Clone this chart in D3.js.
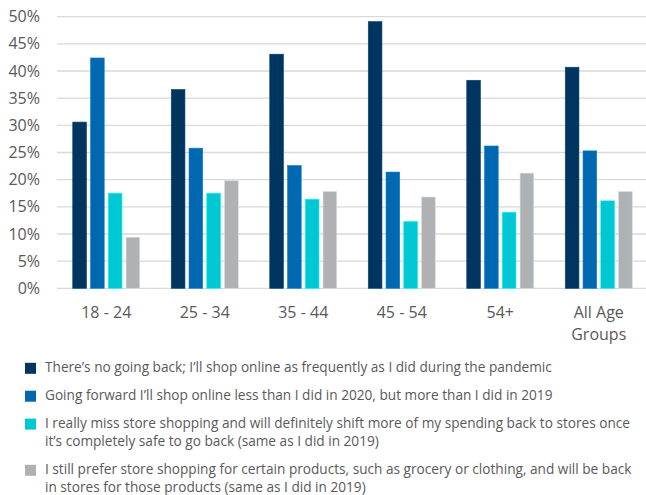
<!DOCTYPE html>
<html><head><meta charset="utf-8">
<script src="https://cdn.jsdelivr.net/npm/d3@7"></script>
<style>
html,body{margin:0;padding:0;background:#fff;}
svg text{font-family:"Open Sans",sans-serif;fill:#595959;}
</style></head>
<body><svg id="chart" width="646" height="495"></svg>
<script>
const categories = ["18 - 24", "25 - 34", "35 - 44", "45 - 54", "54+", "All Age Groups"];
const categoryLines = [["18 - 24"], ["25 - 34"], ["35 - 44"], ["45 - 54"], ["54+"], ["All Age", "Groups"]];
const seriesNames = [
  "There\u2019s no going back; I\u2019ll shop online as frequently as I did during the pandemic",
  "Going forward I\u2019ll shop online less than I did in 2020, but more than I did in 2019",
  "I really miss store shopping and will definitely shift more of my spending back to stores once it\u2019s completely safe to go back (same as I did in 2019)",
  "I still prefer store shopping for certain products, such as grocery or clothing, and will be back in stores for those products (same as I did in 2019)"
];
const legendLines = [
  ["There\u2019s no going back; I\u2019ll shop online as frequently as I did during the pandemic"],
  ["Going forward I\u2019ll shop online less than I did in 2020, but more than I did in 2019"],
  ["I really miss store shopping and will definitely shift more of my spending back to stores once", "it\u2019s completely safe to go back (same as I did in 2019)"],
  ["I still prefer store shopping for certain products, such as grocery or clothing, and will be back", "in stores for those products (same as I did in 2019)"]
];
const noGoingBack   = [30.6, 36.6, 43.1, 49.1, 38.3, 40.7];
const lessThan2020  = [42.4, 25.8, 22.6, 21.4, 26.2, 25.3];
const missStores    = [17.5, 17.5, 16.4, 12.3, 14.0, 16.1];
const preferStores  = [9.4, 19.8, 17.8, 16.8, 21.2, 17.8];
const seriesValues = [noGoingBack, lessThan2020, missStores, preferStores];
const colors = ["#00355f", "#0067b1", "#00c7d4", "#afb1b3"];
const yTicks = [0, 5, 10, 15, 20, 25, 30, 35, 40, 45, 50];

const svg = d3.select("#chart");
const x0 = d3.scaleBand().domain(categories).range([57, 648]).paddingInner(0.32).paddingOuter(0.16);
const x1 = d3.scaleBand().domain(d3.range(4)).range([0, x0.bandwidth()]).paddingInner(0.23).paddingOuter(0);
const y = d3.scaleLinear().domain([0, 50]).range([288.3, 16.7]);

// y axis labels and gridlines
const yAxis = d3.axisLeft(y).tickValues(yTicks).tickFormat(d => d + "%").tickSize(0).tickPadding(0);
const gy = svg.append("g").attr("transform", "translate(40,0)").call(yAxis);
gy.select(".domain").remove();
gy.selectAll("text").attr("font-size", 16).attr("font-family", "Open Sans").attr("fill", "#595959");
svg.append("g").selectAll("line").data(yTicks).join("line")
  .attr("x1", 57).attr("x2", 646)
  .attr("y1", d => y(d)).attr("y2", d => y(d))
  .attr("stroke", "#d9d9d9").attr("stroke-width", 1.3);

// bars
const groups = svg.append("g").selectAll("g").data(categories).join("g")
  .attr("transform", d => `translate(${x0(d)},0)`);
groups.selectAll("rect").data((d, i) => seriesValues.map((s, k) => ({k, v: s[i]}))).join("rect")
  .attr("x", d => x1(d.k)).attr("width", x1.bandwidth())
  .attr("y", d => y(d.v)).attr("height", d => y(0) - y(d.v))
  .attr("fill", d => colors[d.k])
  .attr("stroke", d => d3.color(colors[d.k]).brighter(0.6)).attr("stroke-width", 0.6);

// category labels
const xl = svg.append("g").selectAll("text").data(categories).join("text")
  .attr("text-anchor", "middle").attr("font-size", 16)
  .attr("x", d => x0(d) + x0.bandwidth() / 2).attr("y", 317.5);
xl.each(function(d, i) {
  d3.select(this).selectAll("tspan").data(categoryLines[i]).join("tspan")
    .attr("x", x0(d) + x0.bandwidth() / 2).attr("dy", (t, j) => j === 0 ? 0 : 22).text(t => t);
});

// legend
let ly = 372.3;
const lineH = 17.8, rowGap = 27.9;
legendLines.forEach((lines, k) => {
  svg.append("rect").attr("x", 25).attr("y", ly - 9.5).attr("width", 11).attr("height", 11).attr("fill", colors[k]);
  lines.forEach((t, j) => {
    svg.append("text").attr("x", 45).attr("y", ly + j * lineH).attr("font-size", 13.65).text(t);
  });
  ly += (lines.length - 1) * lineH + rowGap + (lines.length > 1 ? 0.5 : 0);
});
</script></body></html>
